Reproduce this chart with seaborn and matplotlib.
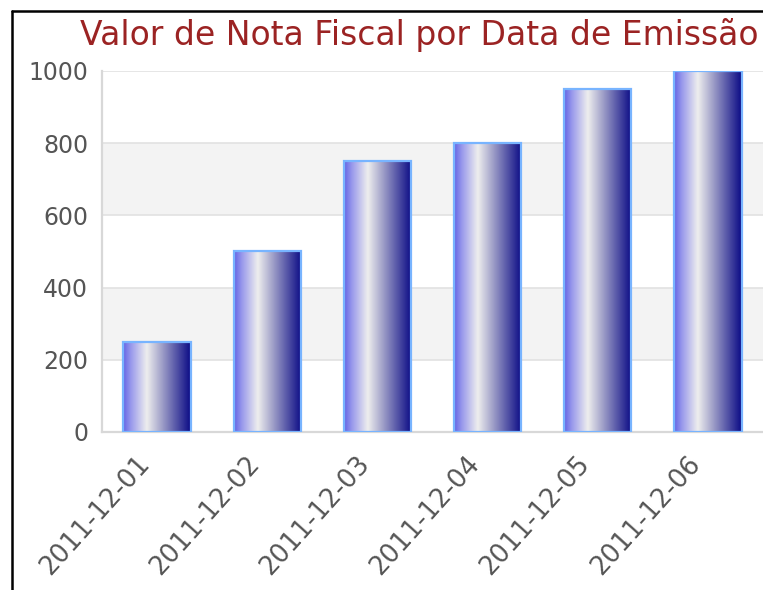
import numpy as np
import pandas as pd
import seaborn as sns
from matplotlib import pyplot as plt
from matplotlib.colors import LinearSegmentedColormap
from matplotlib.lines import Line2D
from matplotlib.transforms import ScaledTranslation

datas = ["2011-12-01", "2011-12-02", "2011-12-03", "2011-12-04", "2011-12-05", "2011-12-06"]
valores = [250, 500, 750, 800, 950, 1000]
titulo = "Valor de Nota Fiscal por Data de Emissão"

df = pd.DataFrame({"data": datas, "valor": valores})

sns.set_style("white")
plt.rcParams["font.family"] = ["DejaVu Sans"]

fig = plt.figure(figsize=(7.63, 5.90), dpi=100)
ax = fig.add_axes([0.1337, 0.2678, 0.8663, 0.6119])

sns.barplot(data=df, x="data", y="valor", ax=ax, width=0.61,
            color="#0a0a85", edgecolor="#78b4ff", linewidth=1.6, zorder=3)

# gradient fill for each bar (blue -> white -> navy, left to right)
grad = LinearSegmentedColormap.from_list(
    "barra", [(0.0, "#6464e4"), (0.12, "#9a9aec"), (0.35, "#eeeeee"),
              (0.55, "#a8a8cc"), (1.0, "#0a0a85")])
g = np.linspace(0, 1, 256).reshape(1, -1)
for p in ax.patches:
    x0, w, h = p.get_x(), p.get_width(), p.get_height()
    im = ax.imshow(g, cmap=grad, aspect="auto", extent=[x0, x0 + w, 0, h],
                   zorder=3.5, interpolation="bilinear")
    im.set_clip_path(p)
    p.set_facecolor("none")
    p.set_zorder(4)

ax.set_xlim(-0.5, 5.5)
ax.set_ylim(0, 1000)
ax.set_yticks([0, 200, 400, 600, 800, 1000])

# alternating bands and grid
for lo, hi in [(200, 400), (600, 800)]:
    ax.axhspan(lo, hi, color="#f3f3f3", zorder=0, lw=0)
for yv in [200, 400, 600, 800, 1000]:
    ax.axhline(yv, color="#e2e2e2", lw=1.2, zorder=1)

for s in ["left", "bottom"]:
    ax.spines[s].set_color("#d8d8d8")
    ax.spines[s].set_linewidth(1.6)
ax.spines["top"].set_visible(False)
ax.spines["right"].set_visible(False)

ax.set_xlabel("")
ax.set_ylabel("")
ax.tick_params(axis="y", length=0, pad=10, labelsize=17, labelcolor="#555555")
ax.tick_params(axis="x", length=0, pad=20, labelsize=18.5, labelcolor="#555555")
deslocar = ScaledTranslation(-12 / 100, 0, fig.dpi_scale_trans)
for lbl in ax.get_xticklabels():
    lbl.set_rotation(48)
    lbl.set_ha("right")
    lbl.set_va("center")
    lbl.set_rotation_mode("anchor")
    lbl.set_transform(lbl.get_transform() + deslocar)

fig.text(80 / 763, 1 - 35 / 590, titulo, color="#9b2323", fontsize=23.8,
         ha="left", va="center")

# black frame on left and top
fig.add_artist(Line2D([11.5 / 763, 11.5 / 763], [0, 1 - 10.5 / 590], color="black",
                      lw=1.8, transform=fig.transFigure))
fig.add_artist(Line2D([11.5 / 763, 1], [1 - 10.5 / 590, 1 - 10.5 / 590], color="black",
                      lw=1.8, transform=fig.transFigure))

fig.savefig("out.png", dpi=100)
